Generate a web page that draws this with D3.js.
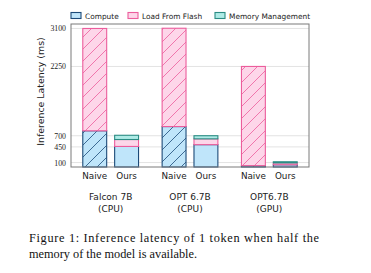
<!DOCTYPE html>
<html>
<head>
<meta charset="utf-8">
<script src="https://cdn.jsdelivr.net/npm/d3@7"></script>
<style>
  body { margin: 0; background: #fff; }
  svg { display: block; }
</style>
</head>
<body>
<div id="chart"></div>
<script>
// data
var groups = ["Falcon 7B", "OPT 6.7B", "OPT6.7B"]
var devices = ["(CPU)", "(CPU)", "(GPU)"]
var methods = ["Naive", "Ours"]
var keys = ["compute", "load", "memory"]
var keyNames = ["Compute", "Load From Flash", "Memory Management"]
// one value per bar: Falcon Naive, Falcon Ours, OPT Naive, OPT Ours, GPU Naive, GPU Ours
var compute = [810, 460, 905, 500, 30, 50]
var load = [2290, 155, 2200, 130, 2220, 42]
var memory = [0, 95, 0, 70, 0, 25]
var yTicks = [100, 450, 700, 2250, 3100]

var fills = {compute: "#bfe5fa", load: "#fdd6e9", memory: "#aeebe6"}
var strokes = {compute: "#1c4a78", load: "#ec5d9c", memory: "#2b8c84"}

var W = 371, H = 273
var margin = {top: 24, right: 62, bottom: 106, left: 71}

var svg = d3.select("#chart").append("svg")
  .attr("width", W)
  .attr("height", H)

// hatch patterns for the naive bars
var defs = svg.append("defs")
keys.forEach(function(k){
  var p = defs.append("pattern")
    .attr("id", "hatch-" + k)
    .attr("patternUnits", "userSpaceOnUse")
    .attr("width", 12)
    .attr("height", 12)
  p.append("rect").attr("width", 12).attr("height", 12).attr("fill", fills[k])
  p.append("path")
    .attr("d", "M-3,3 L3,-3 M0,12 L12,0 M9,15 L15,9")
    .attr("stroke", strokes[k])
    .attr("stroke-width", 0.8)
})

var rows = []
groups.forEach(function(g, gi){
  methods.forEach(function(m, mi){
    var i = gi * 2 + mi
    rows.push({group: g, method: m, compute: compute[i], load: load[i], memory: memory[i]})
  })
})

var x0 = d3.scaleBand()
  .domain(groups)
  .range([margin.left, W - margin.right])

var x1 = d3.scaleBand()
  .domain(methods)
  .range([0, x0.bandwidth()])
  .paddingInner(0.25)
  .paddingOuter(0.37)

var y = d3.scaleLinear()
  .domain([0, 3200])
  .range([H - margin.bottom, margin.top])

// grid
svg.append("g").selectAll("line")
  .data(yTicks)
  .enter()
  .append("line")
  .attr("x1", margin.left)
  .attr("x2", W - margin.right)
  .attr("y1", function(d){ return y(d) })
  .attr("y2", function(d){ return y(d) })
  .style("stroke", "#dcdcdc")
  .style("stroke-width", 0.8)

// stacked bars
var stacked = d3.stack().keys(keys)(rows)
var layers = svg.append("g").selectAll("g")
  .data(stacked)
  .enter()
  .append("g")

layers.selectAll("rect")
  .data(function(d){ return d.map(function(p){ p.key = d.key; return p }) })
  .enter()
  .filter(function(d){ return d[1] - d[0] > 0 })
  .append("rect")
  .attr("x", function(d){ return x0(d.data.group) + x1(d.data.method) })
  .attr("width", x1.bandwidth())
  .attr("y", function(d){ return y(d[1]) })
  .attr("height", function(d){ return y(d[0]) - y(d[1]) })
  .style("fill", function(d){
    return d.data.method == "Naive" ? "url(#hatch-" + d.key + ")" : fills[d.key]
  })
  .style("stroke", function(d){ return strokes[d.key] })
  .style("stroke-width", 1.1)

// frame
svg.append("rect")
  .attr("x", margin.left)
  .attr("y", margin.top)
  .attr("width", W - margin.left - margin.right)
  .attr("height", H - margin.top - margin.bottom)
  .style("fill", "none")
  .style("stroke", "#7a7a7a")
  .style("stroke-width", 1)

// y axis tick labels
var yAxis = d3.axisLeft(y).tickValues(yTicks).tickFormat(d3.format("d")).tickSize(0).tickPadding(5)
var yg = svg.append("g")
  .attr("transform", `translate(${margin.left},0)`)
  .call(yAxis)
yg.select(".domain").remove()
yg.selectAll("text")
  .style("font-family", "'Liberation Serif', serif")
  .style("font-size", "7.8px")
  .style("fill", "#222")

svg.append("text")
  .text("Inference Latency (ms)")
  .attr("transform", `translate(44,${(margin.top + H - margin.bottom) / 2 - 4}) rotate(-90)`)
  .attr("text-anchor", "middle")
  .style("font-family", "'DejaVu Sans', sans-serif")
  .style("font-size", "9.4px")
  .style("fill", "#222")

// method labels under each bar
svg.append("g").selectAll("text")
  .data(rows)
  .enter()
  .append("text")
  .text(function(d){ return d.method })
  .attr("x", function(d){ return x0(d.group) + x1(d.method) + x1.bandwidth() / 2 })
  .attr("y", 178.5)
  .attr("text-anchor", "middle")
  .style("font-family", "'DejaVu Sans', sans-serif")
  .style("font-size", "8.8px")
  .style("fill", "#222")

// group labels
var gl = svg.append("g").selectAll("text")
  .data(groups)
  .enter()
  .append("text")
  .attr("text-anchor", "middle")
  .style("font-family", "'DejaVu Sans', sans-serif")
  .style("font-size", "9px")
  .style("fill", "#222")
gl.append("tspan")
  .attr("x", function(d){ return x0(d) + x0.bandwidth() / 2 })
  .attr("y", 200)
  .text(function(d){ return d })
gl.append("tspan")
  .attr("x", function(d){ return x0(d) + x0.bandwidth() / 2 })
  .attr("y", 211.5)
  .text(function(d, i){ return devices[i] })

// legend
var legendX = [71, 128, 215]
var legend = svg.append("g").selectAll("g")
  .data(keys)
  .enter()
  .append("g")
  .attr("transform", function(d, i){ return `translate(${legendX[i]},12.5)` })
legend.append("rect")
  .attr("width", 10)
  .attr("height", 6)
  .style("fill", function(d){ return fills[d] })
  .style("stroke", function(d){ return strokes[d] })
  .style("stroke-width", 1.1)
legend.append("text")
  .text(function(d, i){ return keyNames[i] })
  .attr("x", 14)
  .attr("y", 6.5)
  .style("font-family", "'DejaVu Sans', sans-serif")
  .style("font-size", "7.4px")
  .style("fill", "#222")

// caption
var cap = svg.append("g")
  .style("font-family", "'Liberation Serif', serif")
  .style("font-size", "12.3px")
  .style("fill", "#111")
cap.append("text")
  .text("Figure 1: Inference latency of 1 token when half the")
  .attr("x", 29)
  .attr("y", 241.5)
  .attr("textLength", 290)
  .attr("lengthAdjust", "spacing")
cap.append("text")
  .text("memory of the model is available.")
  .attr("x", 29)
  .attr("y", 258)
</script>
</body>
</html>
